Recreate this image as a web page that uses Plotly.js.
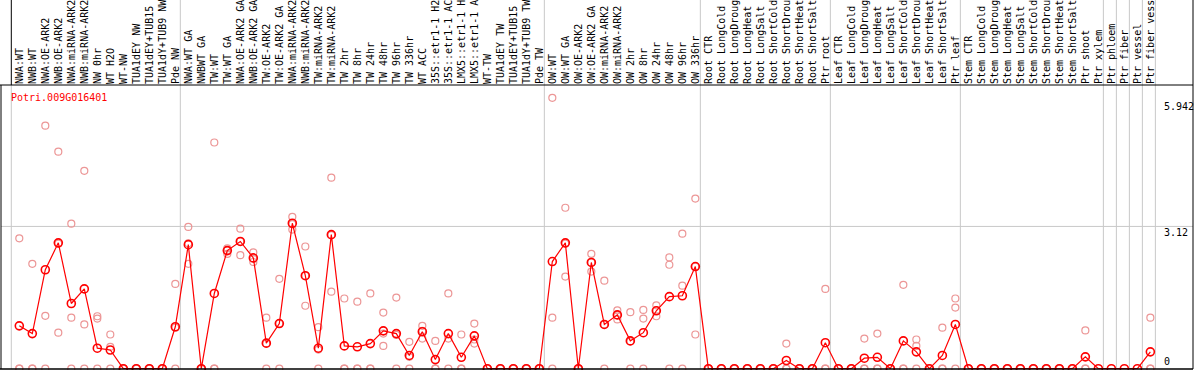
<!DOCTYPE html>
<html>
<head>
<meta charset="utf-8">
<script src="https://cdn.plot.ly/plotly-3.0.1.min.js"></script>
<style>html,body{margin:0;padding:0;background:#fff;}#chart{width:1194px;height:370px;}</style>
</head>
<body>
<div id="chart"></div>
<script>
const geneName = 'Potri.009G016401';
const categories = [
 'NWA:WT','NWB:WT','NWA:OE-ARK2','NWB:OE-ARK2','NWA:miRNA-ARK2','NWB:miRNA-ARK2','NW 0hr','WT H2O','WT-NW','TUA1dEY NW','TUA1dEY+TUB15','TUA1dY+TUB9 NW','Pde NW',
 'NWA:WT GA','NWBWT GA','TW:WT','TW:WT GA','NWA:OE-ARK2 GA','NWB:OE-ARK2 GA','TW:OE-ARK2','TW:OE-ARK2 GA','NWA:miRNA-ARK2','NWB:miRNA-ARK2','TW:miRNA-ARK2','TW:miRNA-ARK2',
 'TW 2hr','TW 8hr','TW 24hr','TW 48hr','TW 96hr','TW 336hr','WT ACC','35S::etr1-1 H2O','35S::etr1-1 ACC','LMX5::etr1-1 H2O','LMX5::etr1-1 ACC','WT-TW','TUA1dEY TW','TUA1dEY+TUB15','TUA1dY+TUB9 TW','Pde TW',
 'OW:WT','OW:WT GA','OW:OE-ARK2','OW:OE-ARK2 GA','OW:miRNA-ARK2','OW:miRNA-ARK2','OW 2hr','OW 8hr','OW 24hr','OW 48hr','OW 96hr','OW 336hr',
 'Root CTR','Root LongCold','Root LongDrought','Root LongHeat','Root LongSalt','Root ShortCold','Root ShortDrought','Root ShortHeat','Root ShortSalt','Ptr root',
 'Leaf CTR','Leaf LongCold','Leaf LongDrought','Leaf LongHeat','Leaf LongSalt','Leaf ShortCold','Leaf ShortDrought','Leaf ShortHeat','Leaf ShortSalt','Ptr leaf',
 'Stem CTR','Stem LongCold','Stem LongDrought','Stem LongHeat','Stem LongSalt','Stem ShortCold','Stem ShortDrought','Stem ShortHeat','Stem ShortSalt','Ptr shoot',
 'Ptr xylem','Ptr phloem','Ptr fiber','Ptr vessel','Ptr fiber vessel'
];
const means = [
 0.94,0.77,2.17,2.76,1.43,1.75,0.45,0.41,0,0,0,0,0.92,
 2.72,0,1.65,2.59,2.79,2.43,0.56,0.99,3.19,2.04,0.45,2.94,
 0.50,0.48,0.55,0.83,0.77,0.29,0.81,0.20,0.77,0.25,0.72,0,0,0,0,0,
 2.35,2.76,0,2.33,0.97,1.18,0.61,0.79,1.27,1.58,1.60,2.24,
 0,0,0,0,0,0,0.18,0,0,0.57,
 0,0,0.23,0.25,0,0.61,0.37,0,0.29,0.97,
 0,0,0,0,0,0,0,0,0,0.26,
 0,0,0,0,0.37
];
const rep1 = [
 2.86,2.30,5.33,4.76,3.18,4.34,1.15,0.75,0,0,0,0,1.86,
 3.11,0,4.96,2.64,3.07,2.55,1.12,1.97,3.33,2.68,0.91,4.19,
 1.54,1.47,1.65,1.23,1.56,0.59,0.94,0.61,1.65,0.75,0.99,0,0,0,0,0,
 5.94,3.53,0,2.52,1.93,1.28,1.24,1.29,1.39,2.44,2.96,3.73,
 0,0,0,0,0,0,0.55,0,0,1.75,
 0,0,0.66,0.77,0,1.84,0.64,0,0.90,1.54,
 0,0,0,0,0,0,0,0,0,0.84,
 null,null,null,null,1.12
];
const rep2 = [
 0,0,1.16,0.79,1.12,0.97,1.10,0.48,0,0,0,0,0,
 2.30,0,0,2.52,2.49,2.34,0,0,3.05,1.38,0,1.69,
 0,0,0,0.50,0,0,0.66,0,0,0,0.55,0,0,0,0,0,
 1.12,2.02,0,2.13,0,1.08,0,1.10,1.15,2.28,1.82,0.75,
 0,0,0,0,0,0,0,0,0,0,
 0,0,0,0,0,0,0.50,0,0,1.34,
 0,0,0,0,0,0,0,0,0,0,
 null,null,null,null,0
];
const rep3 = [
 0,0,0,2.74,0,0,0,0,0,0,0,0,0.90,
 2.75,0,0,2.60,2.79,2.41,0.55,0.99,3.17,2.04,0.42,2.93,
 0,0,0,0.77,0.74,0.26,0.83,0,0.66,0,0.64,0,0,0,0,0,
 0,2.74,0,2.33,0.97,1.17,0.60,0,1.28,0,0,2.24,
 0,0,0,0,0,0,0,0,0,0,
 0,0,0,0,0,0,0,0,0,0,
 0,0,0,0,0,0,0,0,0,0,
 null,null,null,null,0
];
const groupEnds = [-1,12,40,52,62,72,83,84,85,86,87];
const yTicks = [0,3.12,5.942];
const yTickText = ['0','3.12','5.942'];

const idx = categories.map((_, i) => i);
const repX = [], repY = [];
[rep1, rep2, rep3].forEach(r => r.forEach((v, i) => { if (v !== null) { repX.push(i); repY.push(v); } }));

const FONT = 'DejaVu Sans Mono, monospace';
const traces = [
 {x: repX, y: repY, type: 'scatter', mode: 'markers', cliponaxis: false, hoverinfo: 'skip',
  marker: {symbol: 'circle-open', size: 7, color: 'rgb(236,150,150)', line: {width: 1.2}}},
 {x: idx, y: means, type: 'scatter', mode: 'lines+markers', cliponaxis: false,
  line: {color: '#ff0000', width: 1.2},
  marker: {symbol: 'circle-open', size: 8, color: '#ff0000', line: {width: 1.6}}}
];

const headerTop = 1 + 85 / 284;
const shapes = [];
groupEnds.forEach((g, k) => {
  shapes.push({type: 'line', xref: 'x', yref: 'paper', x0: g + 0.385, x1: g + 0.385, y0: 0, y1: k === 0 ? 1 : headerTop,
    line: {color: '#c8c8c8', width: 1}, layer: 'below'});
});
// header left border
shapes.push({type: 'line', xref: 'x', yref: 'paper', x0: groupEnds[0] + 0.385, x1: groupEnds[0] + 0.385, y0: 1, y1: headerTop, line: {color: '#000', width: 1}});
// 3.12 gridline
shapes.push({type: 'line', xref: 'paper', yref: 'y', x0: 0, x1: 1, y0: yTicks[1], y1: yTicks[1], line: {color: '#c8c8c8', width: 1}, layer: 'below'});
// frame
shapes.push({type: 'line', xref: 'paper', yref: 'paper', x0: -0.001, x1: 1, y0: 1, y1: 1, line: {color: '#000', width: 1}});
shapes.push({type: 'line', xref: 'paper', yref: 'paper', x0: -0.001, x1: 1, y0: 0, y1: 0, line: {color: '#000', width: 1.5}});
shapes.push({type: 'line', xref: 'paper', yref: 'paper', x0: 0, x1: 0, y0: 0, y1: 1, line: {color: '#000', width: 1}});
shapes.push({type: 'line', xref: 'paper', yref: 'paper', x0: 1, x1: 1, y0: 0, y1: headerTop, line: {color: '#000', width: 1}});

const annotations = [
 {xref: 'paper', yref: 'paper', x: 8 / 1192, y: 1 - 12.5 / 284, xanchor: 'left', yanchor: 'middle', showarrow: false,
  text: geneName, font: {family: FONT, size: 10, color: '#ff0000'}}
];
yTicks.forEach((v, i) => {
  annotations.push({xref: 'paper', yref: 'y', x: 1161 / 1192, y: v, xanchor: 'left', yanchor: i === 0 ? 'bottom' : 'top',
    yshift: i === 0 ? 0 : (i === 1 ? 1 : -1), showarrow: false, text: yTickText[i], font: {family: FONT, size: 10, color: '#000'}});
});

const layout = {
  width: 1194, height: 370,
  margin: {l: 1, r: 1, t: 85, b: 1, pad: 0},
  paper_bgcolor: '#fff', plot_bgcolor: '#fff',
  showlegend: false,
  xaxis: {range: [-1.408, 90.28], side: 'top', tickmode: 'array', tickvals: idx, ticktext: categories,
    tickangle: -90, ticks: '', showgrid: false, zeroline: false, showline: false,
    tickfont: {family: FONT, size: 10, color: '#000'}, automargin: false},
  yaxis: {range: [-0.0066, 6.2215], showgrid: false, zeroline: false, showticklabels: false, showline: false, fixedrange: true},
  shapes: shapes,
  annotations: annotations
};
Plotly.newPlot('chart', traces, layout, {displayModeBar: false, staticPlot: true});
</script>
</body>
</html>
